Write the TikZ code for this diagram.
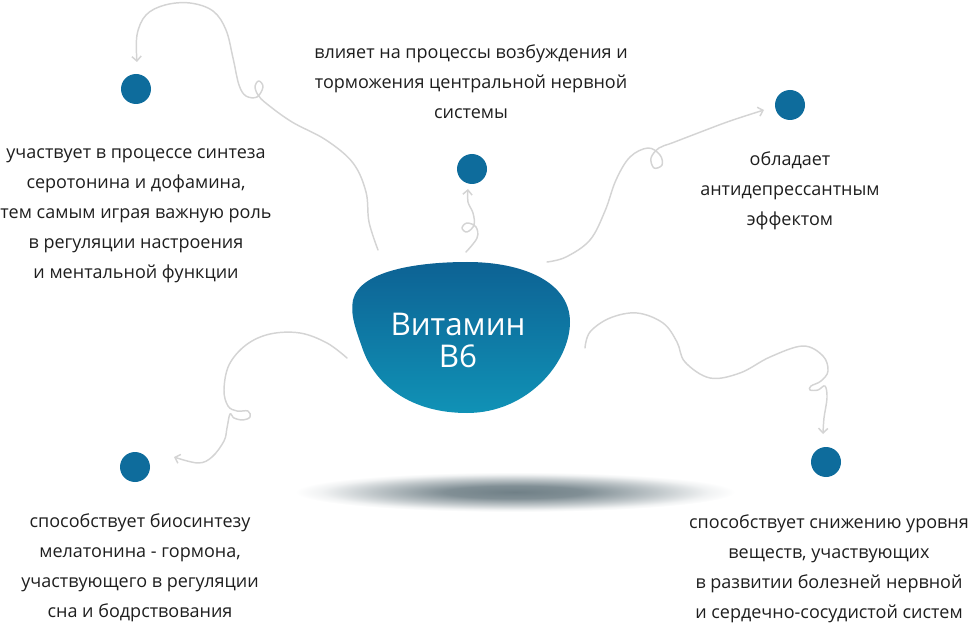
\documentclass[tikz,border=0pt]{standalone}
\usepackage{fontspec}
\setmainfont{Open Sans}
\usetikzlibrary{arrows.meta}
\definecolor{dotc}{RGB}{14,108,156}
\definecolor{blobtop}{RGB}{13,98,148}
\definecolor{blobbot}{RGB}{16,146,182}
\definecolor{linec}{RGB}{212,212,212}
\definecolor{txtc}{RGB}{30,30,30}
\definecolor{shc}{RGB}{112,128,135}
\pgfdeclareradialshading{shadowsh}{\pgfpoint{0bp}{0bp}}{color(0bp)=(shc); color(8bp)=(shc!88!white); color(16bp)=(shc!45!white); color(22bp)=(shc!10!white); color(25bp)=(white); color(50bp)=(white)}
\tikzset{
  dot/.style={circle, fill=dotc, minimum size=22.5pt, inner sep=0pt},
  txt/.style={align=center, text=txtc, font=\fontsize{13.5}{22.5}\selectfont, inner sep=0pt},
  conn/.style={draw=linec, line width=1.1pt, line cap=round, line join=round, -{Straight Barb[length=3.5pt,width=7pt]}},
  centre/.style={align=center, text=white, font=\fontsize{23.5}{24}\selectfont, inner sep=0pt}
}
\begin{document}
\begin{tikzpicture}[x=0.75pt,y=-0.75pt]
\useasboundingbox (0,0) rectangle (968,624);
% shadow
\shade[shading=shadowsh] (515,492) ellipse [x radius=165pt, y radius=15pt];
% blob
\shade[top color=blobtop, bottom color=blobbot]
  (353,300) .. controls (360,270) and (420,262) .. (467,262)
  .. controls (525,262) and (570,283) .. (570,322)
  .. controls (570,362) and (528,413) .. (467,413)
  .. controls (412,413) and (376,386) .. (363,350)
  .. controls (356,330) and (350,315) .. (353,300) -- cycle;
\node[centre] (vit) at (458,340) {Витамин\\B6};
% dots
\node[dot] (d1) at (136,89) {};
\node[dot] (d2) at (472,169) {};
\node[dot] (d3) at (790,105) {};
\node[dot] (d4) at (135,467) {};
\node[dot] (d5) at (826,462) {};
% connector ends
\coordinate (s1) at (378,250);
\coordinate (e1) at (137,62);
\coordinate (s2) at (466,252);
\coordinate (e2) at (468,189);
\coordinate (s3) at (547,262);
\coordinate (e3) at (764,110);
\coordinate (s4) at (585,348);
\coordinate (e4) at (823,434);
\coordinate (s5) at (347,358);
\coordinate (e5) at (174,457);
% connectors
\draw[conn] plot[smooth, tension=0.6] coordinates {(s1) (369,222) (366,192) (353,163) (326,140) (292,122) (267,104) (258,95) (255,86) (259,81) (263,87) (257,97) (246,96) (239,85) (233,58) (226,30) (213,11) (190,3) (165,5) (146,15) (137,35) (e1)};
\draw[conn] plot[smooth, tension=0.6] coordinates {(s2) (477,238) (476,227) (467,223) (462,228) (467,232) (474,225) (473,213) (468,202) (e2)};
\draw[conn] plot[smooth, tension=0.6] coordinates {(s3) (566,257) (590,240) (605,211) (616,180) (630,157) (648,148) (660,155) (662,165) (654,168) (651,158) (659,148) (672,143) (698,133) (730,121) (e3)};
\draw[conn] plot[smooth, tension=0.6] coordinates {(s4) (590,332) (610,318) (637,313) (663,323) (677,342) (685,362) (710,378) (740,373) (770,357) (803,346) (823,356) (828,371) (821,381) (811,386) (810,390) (818,390) (825,386) (827,398) (824,418) (e4)};
\draw[conn] plot[smooth, tension=0.6] coordinates {(s5) (327,343) (300,333) (270,334) (246,345) (229,365) (224,390) (228,406) (237,411) (248,411) (250,417) (243,420) (234,418) (230,414) (227,428) (224,441) (212,457) (198,463) (e5)};
% texts
\node[txt] (t1) at (136,216) {участвует в процессе синтеза\\серотонина и дофамина,\\тем самым играя важную роль\\в регуляции настроения\\и ментальной функции};
\node[txt] (t2) at (471,82) {влияет на процессы возбуждения и\\торможения центральной нервной\\системы};
\node[txt] (t3) at (790,191) {обладает\\антидепрессантным\\эффектом};
\node[txt] (t4) at (140,568) {способствует биосинтезу\\мелатонина - гормона,\\участвующего в регуляции\\сна и бодрствования};
\node[txt] (t5) at (829,569) {способствует снижению уровня\\веществ, участвующих\\в развитии болезней нервной\\и сердечно-сосудистой систем};
\end{tikzpicture}
\end{document}
